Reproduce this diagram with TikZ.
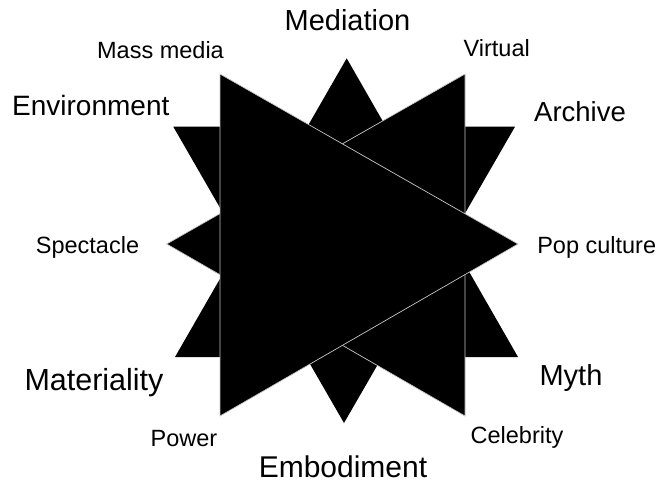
\documentclass[tikz,border=0pt]{standalone}
\usepackage{fontspec}
\setmainfont{Liberation Sans}

\begin{document}
\begin{tikzpicture}[x=1pt,y=-1pt,
	back/.style={fill=black},
	tri/.style={fill=black, draw=gray!45, line width=0.7pt, line join=miter},
	biglab/.style={font=\fontsize{#1}{#1}\selectfont, anchor=base, inner sep=0pt},
	biglab/.default=29,
	smalllab/.style={font=\fontsize{23.5}{23.5}\selectfont, anchor=base, inner sep=0pt}]
	\useasboundingbox (0,0) rectangle (660,483);
	% triangles, back to front
	\fill[back] (346.7,58.3) -- (175,357) -- (518,357) -- cycle;
	\fill[back] (344,423) -- (173.3,126.7) -- (515,126.7) -- cycle;
	\draw[tri] (465,74) -- (465,416) -- (166.7,244) -- cycle;
	\draw[tri] (220,74) -- (220,416) -- (518,244) -- cycle;
	% labels
	\node[biglab] (mediation) at (347.5,30.7) {Mediation};
	\node[smalllab] (massmedia) at (160.5,58.3) {Mass media};
	\node[smalllab] (virtual) at (496.7,56.7) {Virtual};
	\node[biglab=28] (environment) at (90.8,115) {Environment};
	\node[biglab=27.5] (archive) at (580,121.7) {Archive};
	\node[smalllab] (spectacle) at (87.5,253.3) {Spectacle};
	\node[smalllab] (popculture) at (596.7,253.3) {Pop culture};
	\node[biglab=30.5] (materiality) at (94,390) {Materiality};
	\node[biglab] (myth) at (571,385) {Myth};
	\node[smalllab] (power) at (184,446) {Power};
	\node[smalllab] (celebrity) at (517,443) {Celebrity};
	\node[biglab=30] (embodiment) at (343,477.5) {Embodiment};
\end{tikzpicture}
\end{document}
